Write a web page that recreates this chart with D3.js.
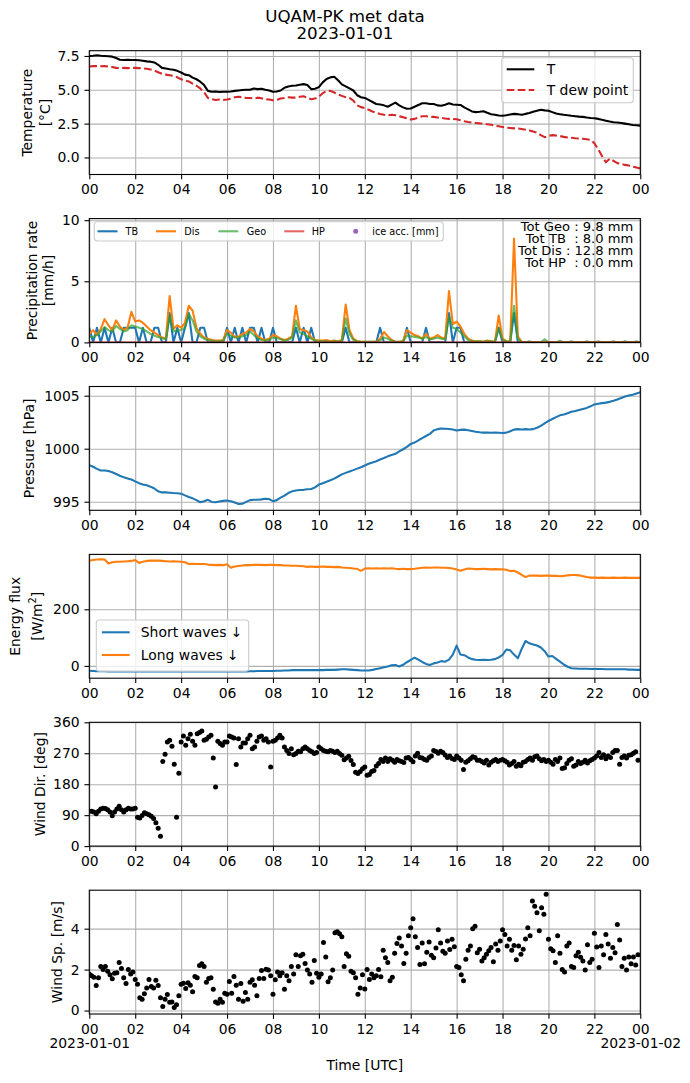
<!DOCTYPE html>
<html>
<head>
<meta charset="utf-8">
<script src="https://cdn.jsdelivr.net/npm/d3@7"></script>
<style>
	body { margin:0; background:#fff; }
	svg { display:block; }
</style>
</head>
<body>
<div id="chart"></div>
<script>
// ---- data : 10 min steps, 00:00 -> 24:00 (145 values) ----
var tempT = [
	7.50, 7.52, 7.55, 7.52, 7.50, 7.48,
	7.45, 7.35, 7.22, 7.20, 7.22, 7.20,
	7.20, 7.18, 7.15, 7.10, 7.08, 7.02,
	6.85, 6.62, 6.58, 6.52, 6.48, 6.40,
	6.28, 6.12, 6.08, 5.90, 5.78, 5.60,
	5.35, 4.92, 4.86, 4.88, 4.84, 4.86,
	4.86, 4.88, 4.92, 4.95, 4.98, 5.00,
	5.00, 5.10, 5.05, 5.08, 5.00, 4.95,
	4.85, 4.88, 4.95, 5.15, 5.25, 5.30,
	5.32, 5.38, 5.42, 5.35, 5.05, 5.08,
	5.20, 5.55, 5.80, 5.92, 5.96, 5.70,
	5.40, 5.25, 5.10, 4.95, 4.60, 4.45,
	4.40, 4.25, 4.10, 3.95, 3.92, 3.85,
	3.75, 3.90, 4.05, 3.85, 3.70, 3.60,
	3.62, 3.75, 3.88, 4.00, 4.00, 3.95,
	3.95, 3.85, 3.82, 3.90, 4.00, 3.92,
	3.90, 3.88, 3.70, 3.55, 3.40, 3.35,
	3.38, 3.42, 3.30, 3.20, 3.15, 3.10,
	3.08, 3.12, 3.18, 3.22, 3.20, 3.15,
	3.22, 3.28, 3.38, 3.45, 3.52, 3.48,
	3.45, 3.35, 3.25, 3.20, 3.15, 3.12,
	3.08, 3.05, 3.02, 3.00, 2.95, 2.92,
	2.90, 2.85, 2.78, 2.72, 2.65, 2.60,
	2.58, 2.55, 2.50, 2.45, 2.40, 2.38,
	2.35
];
var tempDew = [
	6.72, 6.75, 6.75, 6.74, 6.75, 6.72,
	6.68, 6.62, 6.60, 6.62, 6.60, 6.62,
	6.62, 6.60, 6.58, 6.55, 6.50, 6.42,
	6.30, 6.18, 6.12, 6.08, 6.02, 5.92,
	5.78, 5.70, 5.62, 5.45, 5.30, 5.10,
	4.82, 4.40, 4.30, 4.25, 4.28, 4.25,
	4.28, 4.35, 4.45, 4.48, 4.45, 4.40,
	4.40, 4.35, 4.42, 4.38, 4.30, 4.28,
	4.22, 4.25, 4.35, 4.40, 4.45, 4.42,
	4.42, 4.48, 4.52, 4.40, 4.30, 4.35,
	4.50, 4.75, 4.90, 4.92, 4.80, 4.65,
	4.55, 4.45, 4.40, 4.20, 3.85, 3.72,
	3.65, 3.52, 3.40, 3.30, 3.22, 3.15,
	3.12, 3.15, 3.12, 3.05, 2.98, 2.90,
	2.80, 2.85, 2.95, 3.05, 3.05, 3.00,
	3.00, 2.95, 2.92, 2.88, 2.85, 2.85,
	2.82, 2.75, 2.68, 2.62, 2.58, 2.55,
	2.52, 2.50, 2.45, 2.42, 2.35, 2.30,
	2.25, 2.20, 2.18, 2.15, 2.15, 2.10,
	2.05, 2.00, 1.92, 1.82, 1.65, 1.50,
	1.58, 1.65, 1.62, 1.58, 1.52, 1.48,
	1.45, 1.42, 1.40, 1.38, 1.35, 1.30,
	1.05, 0.60, 0.10, -0.35, -0.10, -0.25,
	-0.42, -0.48, -0.55, -0.60, -0.68, -0.75,
	-0.82
];
var precipTB = [
	1.2, 0, 1.2, 0, 1.2, 0,
	1.2, 0, 0, 1.2, 1.2, 1.2,
	1.2, 0, 1.2, 0, 0, 1.2,
	1.2, 0, 0, 2.4, 0, 1.2,
	0, 1.2, 2.4, 0, 0, 1.2,
	1.2, 0, 0, 0, 0, 0,
	1.2, 0, 1.2, 0, 1.2, 0,
	1.2, 1.2, 0, 1.2, 0, 0,
	1.2, 0, 0, 0, 0, 0,
	1.2, 0, 1.2, 0, 1.2, 0,
	0, 0, 0, 0, 0, 0,
	0, 1.2, 0, 0, 0, 0,
	0, 0, 0, 0, 1.2, 0,
	0, 0, 0, 0, 0, 1.2,
	0, 0, 0, 0, 1.2, 0,
	0, 0, 0, 0, 2.4, 0,
	1.2, 1.2, 0, 0, 0, 0,
	0, 0, 0, 0, 0, 1.2,
	0, 0, 0, 2.4, 0, 0,
	0, 0, 0, 0, 0, 0,
	0, 0, 0, 0, 0, 0,
	0, 0, 0, 0, 0, 0,
	0, 0, 0, 0, 0, 0,
	0, 0, 0, 0, 0, 0,
	0
];
var precipDis = [
	0.7, 1.0, 0.6, 1.1, 1.9, 1.4,
	1.0, 1.8, 1.3, 1.0, 1.2, 2.5,
	1.7, 1.8, 1.6, 1.3, 1.0, 0.8,
	0.6, 0.4, 0.3, 3.8, 1.1, 1.4,
	1.2, 1.6, 3.0, 2.6, 1.2, 0.7,
	0.4, 0.3, 0.2, 0.15, 0.15, 0.2,
	1.0, 0.8, 0.45, 0.45, 0.7, 0.8,
	1.1, 0.9, 0.5, 0.3, 0.2, 0.3,
	0.6, 0.5, 0.3, 0.2, 0.3, 0.5,
	3.0, 1.1, 1.0, 0.9, 0.4, 0.2,
	0.15, 0.15, 0.2, 0.1, 0.15, 0.1,
	0.2, 3.1, 1.0, 0.3, 0.1, 0.05,
	0.05, 0.05, 0.05, 0.05, 0.3, 0.85,
	0.5, 0.2, 0.05, 0.05, 0.1, 1.0,
	0.8, 0.6, 0.5, 0.3, 0.7, 0.3,
	0.4, 0.6, 0.4, 0.3, 4.2, 1.5,
	1.7, 1.3, 0.7, 0.3, 0.15, 0.1,
	0.1, 0.05, 0.15, 0.1, 0.05, 2.2,
	0.3, 0.1, 0.05, 8.5, 0.5, 0.05,
	0, 0, 0, 0, 0, 0,
	0, 0, 0, 0, 0, 0,
	0, 0, 0, 0, 0, 0,
	0, 0, 0, 0, 0, 0,
	0, 0, 0, 0, 0, 0,
	0
];
var precipGeo = [
	0.45, 0.45, 0.6, 0.9, 1.25, 1.0,
	0.9, 1.35, 1.1, 0.9, 1.0, 1.4,
	1.3, 1.2, 1.1, 0.9, 0.7, 0.55,
	0.45, 0.35, 0.25, 2.2, 0.9, 1.0,
	1.0, 1.2, 2.35, 1.8, 0.9, 0.5,
	0.3, 0.2, 0.15, 0.1, 0.1, 0.15,
	0.7, 0.55, 0.4, 0.4, 0.5, 0.6,
	0.9, 0.6, 0.35, 0.2, 0.15, 0.2,
	0.4, 0.35, 0.25, 0.15, 0.2, 0.4,
	1.8, 0.8, 0.7, 0.5, 0.3, 0.15,
	0.1, 0.1, 0.1, 0.05, 0.1, 0.05,
	0.15, 1.95, 0.7, 0.2, 0.1, 0.05,
	0.05, 0.05, 0.05, 0.05, 0.15, 0.4,
	0.3, 0.15, 0.05, 0.05, 0.1, 0.55,
	0.5, 0.45, 0.4, 0.3, 0.45, 0.25,
	0.3, 0.4, 0.3, 0.25, 2.1, 1.2,
	1.1, 0.8, 0.5, 0.2, 0.1, 0.1,
	0.1, 0.05, 0.1, 0.1, 0.05, 1.2,
	0.2, 0.1, 0.05, 3.0, 0.3, 0.05,
	0, 0.1, 0, 0, 0, 0.25,
	0, 0, 0, 0.15, 0, 0,
	0.1, 0, 0, 0, 0.1, 0,
	0, 0.1, 0, 0, 0, 0.1,
	0, 0, 0.1, 0, 0, 0.1,
	0
];
// hourly values
var precipHP = [0, 0, 0, 0, 0, 0, 0, 0, 0, 0, 0, 0, 0, 0, 0, 0, 0, 0, 0, 0, 0, 0, 0, 0, 0];
var pressure = [
	998.45, 998.30, 998.10, 997.95, 997.95, 997.90,
	997.78, 997.62, 997.45, 997.30, 997.20, 997.10,
	996.92, 996.75, 996.62, 996.55, 996.42, 996.25,
	995.98, 995.88, 995.88, 995.85, 995.82, 995.80,
	995.76, 995.60, 995.45, 995.32, 995.15, 994.95,
	995.05, 995.18, 994.98, 994.95, 995.02, 995.08,
	995.12, 995.05, 994.92, 994.78, 994.80, 994.98,
	995.15, 995.18, 995.18, 995.22, 995.28, 995.25,
	995.05, 995.15, 995.38, 995.58, 995.82, 995.98,
	996.05, 996.10, 996.12, 996.18, 996.20, 996.35,
	996.62, 996.75, 996.88, 997.02, 997.18, 997.38,
	997.58, 997.72, 997.85, 997.98, 998.12, 998.25,
	998.42, 998.58, 998.70, 998.82, 998.98, 999.12,
	999.28, 999.40, 999.52, 999.75, 999.95, 1000.18,
	1000.45, 1000.58, 1000.78, 1001.00, 1001.20, 1001.40,
	1001.72, 1001.85, 1001.90, 1001.88, 1001.86, 1001.82,
	1001.72, 1001.78, 1001.80, 1001.75, 1001.68, 1001.60,
	1001.55, 1001.52, 1001.52, 1001.50, 1001.52, 1001.50,
	1001.48, 1001.52, 1001.65, 1001.80, 1001.85, 1001.82,
	1001.85, 1001.82, 1001.85, 1001.98, 1002.15, 1002.40,
	1002.62, 1002.80, 1002.98, 1003.15, 1003.22, 1003.35,
	1003.48, 1003.55, 1003.65, 1003.75, 1003.85, 1004.00,
	1004.18, 1004.25, 1004.30, 1004.35, 1004.42, 1004.52,
	1004.65, 1004.78, 1004.92, 1005.02, 1005.10, 1005.22,
	1005.32
];
var swDown = [
	-17, -18, -19, -19, -19, -20,
	-20, -20, -20, -20, -20, -20,
	-20, -20, -20, -20, -20, -20,
	-20, -20, -20, -20, -20, -20,
	-20, -20, -20, -20, -20, -20,
	-20, -20, -20, -20, -20, -20,
	-20, -20, -20, -20, -20, -20,
	-19, -19, -18, -18, -18, -18,
	-18, -17, -17, -16, -16, -15,
	-15, -15, -15, -15, -15, -15,
	-15, -15, -14, -14, -14, -13,
	-12, -12, -13, -14, -15, -16,
	-16, -16, -14, -11, -8, -5,
	-2, 2, 3, -2, 4, 13,
	21, 29, 22, 14, 7, 3,
	9, 12, 17, 15, 22, 40,
	72, 40, 38, 30, 24, 22,
	21, 22, 21, 22, 24, 30,
	39, 58, 55, 40, 27, 60,
	88, 80, 76, 72, 65, 52,
	33, 35, 25, 15, 5, -3,
	-8, -9, -10, -10, -10, -11,
	-11, -11, -11, -12, -12, -12,
	-12, -12, -12, -13, -13, -14,
	-14
];
var lwDown = [
	372, 374, 376, 377, 376, 362,
	366, 368, 368, 369, 370, 371,
	374, 364, 368, 371, 372, 372,
	372, 371, 370, 369, 370, 369,
	368, 366, 360, 361, 360, 360,
	360, 358, 357, 356, 357, 356,
	359, 347, 351, 353, 355, 356,
	356, 357, 357, 357, 356, 357,
	357, 356, 356, 355, 355, 354,
	354, 353, 352, 350, 351, 350,
	350, 351, 350, 350, 349, 350,
	348, 347, 346, 344, 343, 336,
	344, 345, 344, 345, 344, 345,
	344, 345, 343, 342, 343, 342,
	342, 343, 345, 347, 348, 347,
	348, 348, 347, 347, 346, 344,
	341, 336, 341, 344, 343, 342,
	342, 343, 342, 341, 342, 341,
	341, 340, 335, 336, 330, 322,
	314, 319, 319, 319, 318, 319,
	319, 318, 318, 317, 318, 320,
	321, 321, 320, 317, 314, 312,
	312, 311, 312, 311, 311, 312,
	311, 311, 312, 311, 311, 311,
	311
];
// ---- data : 6 min steps, 00:00 -> 23:54 (240 values) ----
var windDir = [
	101, 101, 99, 94, 101, 108, 110, 109, 106, 99,
	88, 99, 108, 116, 106, 99, 106, 110, 108, 108,
	110, 84, 82, 89, 97, 94, 91, 87, 80, 68,
	52, 29, 246, 267, 303, 308, 290, 238, 84, 212,
	303, 320, 293, 312, 325, 305, 293, 327, 330, 335,
	308, 311, 317, 322, 256, 172, 305, 298, 293, 303,
	303, 320, 317, 314, 237, 312, 288, 300, 300, 312,
	322, 283, 288, 305, 317, 320, 308, 312, 303, 230,
	305, 308, 314, 322, 314, 288, 278, 269, 283, 266,
	269, 276, 274, 283, 288, 283, 278, 274, 269, 272,
	288, 283, 278, 276, 274, 278, 276, 272, 276, 269,
	264, 251, 256, 261, 249, 237, 215, 211, 217, 225,
	230, 206, 208, 217, 220, 233, 240, 252, 246, 256,
	246, 254, 250, 244, 252, 248, 246, 243, 256, 258,
	252, 245, 262, 270, 258, 256, 252, 250, 258, 262,
	278, 275, 270, 276, 272, 265, 258, 262, 255, 252,
	262, 256, 250, 223, 244, 248, 254, 260, 258, 250,
	250, 246, 242, 250, 236, 244, 248, 252, 246, 250,
	252, 248, 244, 236, 240, 246, 232, 238, 234, 244,
	246, 252, 256, 250, 260, 262, 254, 248, 252, 246,
	250, 244, 238, 252, 246, 256, 226, 228, 240, 250,
	254, 232, 236, 246, 240, 244, 250, 242, 248, 252,
	256, 262, 272, 258, 266, 254, 262, 258, 272, 278,
	278, 238, 258, 262, 256, 264, 266, 270, 274, 250
];
var windSpeed = [
	1.78, 1.70, 1.62, 1.22, 1.60, 2.15, 2.00, 2.15, 1.92, 1.75,
	1.55, 1.82, 1.85, 2.35, 2.05, 1.60, 1.32, 2.00, 1.78, 1.88,
	1.52, 1.28, 0.62, 0.55, 0.82, 1.10, 1.52, 1.18, 1.10, 1.48,
	1.22, 0.62, 0.20, 0.55, 0.78, 0.40, 0.42, 0.15, 0.28, 0.72,
	1.28, 1.33, 1.08, 1.36, 1.24, 0.92, 1.66, 1.60, 2.20, 2.28,
	2.15, 1.38, 1.56, 1.60, 1.04, 0.42, 0.36, 0.55, 0.40, 0.85,
	0.80, 1.42, 0.85, 1.66, 1.24, 0.55, 1.32, 0.45, 0.88, 0.55,
	1.38, 1.50, 1.24, 0.72, 1.56, 1.95, 1.56, 2.02, 1.98, 1.70,
	0.80, 1.50, 1.88, 1.70, 1.85, 1.04, 1.70, 1.45, 2.15, 1.78,
	2.72, 2.15, 2.68, 2.75, 2.30, 1.98, 1.78, 1.38, 2.45, 1.82,
	1.62, 1.78, 3.32, 2.62, 1.40, 1.60, 1.98, 3.80, 3.85, 3.75,
	3.60, 2.15, 2.78, 2.65, 1.92, 1.85, 1.60, 0.80, 1.10, 1.75,
	1.05, 2.00, 1.52, 1.78, 1.60, 1.70, 2.00, 1.65, 2.95, 2.58,
	2.35, 1.45, 1.62, 2.80, 3.28, 3.55, 3.15, 2.30, 2.80, 3.65,
	4.05, 4.48, 3.60, 3.08, 2.25, 3.30, 2.28, 2.85, 3.35, 2.70,
	2.58, 3.05, 3.95, 3.30, 2.90, 2.80, 3.40, 2.98, 3.48, 3.12,
	2.15, 2.10, 1.75, 1.45, 2.50, 2.95, 3.15, 4.00, 4.12, 2.82,
	3.00, 2.42, 2.58, 2.75, 2.92, 3.08, 2.38, 3.25, 2.95, 3.40,
	3.95, 3.72, 3.15, 3.48, 2.95, 3.18, 2.48, 3.15, 2.75, 3.00,
	3.50, 4.05, 3.65, 5.35, 5.10, 4.78, 3.90, 5.02, 4.70, 5.68,
	3.48, 3.02, 2.92, 2.35, 3.65, 2.80, 2.00, 1.88, 3.15, 3.30,
	2.15, 2.10, 2.68, 2.85, 2.60, 2.42, 1.98, 3.22, 2.35, 2.50,
	3.78, 3.10, 2.10, 3.15, 2.72, 3.72, 3.25, 2.55, 3.08, 2.82,
	4.20, 3.45, 2.15, 2.55, 1.98, 2.62, 2.28, 2.62, 2.22, 2.72
];
// ---- texts / ticks ----
var precipTotals = ['Tot Geo : 9.8 mm', 'Tot TB  : 8.0 mm', 'Tot Dis : 12.8 mm', 'Tot HP  : 0.0 mm'];
var tempTicks = [0, 2.5, 5, 7.5];
var precipTicks = [0, 5, 10];
var pressTicks = [995, 1000, 1005];
var fluxTicks = [0, 200];
var dirTicks = [0, 90, 180, 270, 360];
var speedTicks = [0, 2, 4];
var dayLabels = ['2023-01-01', '2023-01-02'];

// ---- layout ----
var W = 690, H = 1083;
var FONT = '"DejaVu Sans", "Liberation Sans", sans-serif';
var plotL = 89.3, plotR = 640.3, plotH = 123.8;
var panelTop = [50.7, 218.6, 386.5, 554.4, 722.3, 890.2];
var tick = 4.86, fs = 13.9;

var t0 = new Date(Date.UTC(2023, 0, 1)), t1 = new Date(Date.UTC(2023, 0, 2));
var x = d3.scaleUtc().domain([t0, t1]).range([plotL, plotR]);
function at(i, stepMin){ return new Date(t0.getTime() + i * stepMin * 60000); }

var svg = d3.select('#chart').append('svg')
	.attr('width', W).attr('height', H)
	.attr('font-family', FONT);
svg.append('rect').attr('width', W).attr('height', H).attr('fill', '#fff');
var defs = svg.append('defs');

function makePanel(k, yDomain, yTicks, yFmt){
	var top = panelTop[k], bottom = top + plotH;
	var y = d3.scaleLinear().domain(yDomain).range([bottom, top]);
	var g = svg.append('g');
	defs.append('clipPath').attr('id', 'clip' + k)
		.append('rect').attr('x', plotL).attr('y', top).attr('width', plotR - plotL).attr('height', plotH);
	//grid
	var grid = g.append('g');
	grid.append('g').attr('transform', 'translate(0,' + bottom + ')')
		.call(d3.axisBottom(x).ticks(d3.utcHour.every(2)).tickSize(-plotH).tickFormat(''));
	grid.append('g').attr('transform', 'translate(' + plotL + ',0)')
		.call(d3.axisLeft(y).tickValues(yTicks).tickSize(-(plotR - plotL)).tickFormat(''));
	grid.selectAll('.domain').remove();
	grid.selectAll('line').attr('stroke', '#b0b0b0').attr('stroke-width', 1.1);
	//marks
	var marks = g.append('g').attr('clip-path', 'url(#clip' + k + ')');
	//axes
	var ax = g.append('g');
	var xa = ax.append('g').attr('transform', 'translate(0,' + bottom + ')')
		.call(d3.axisBottom(x).ticks(d3.utcHour.every(2)).tickFormat(d3.utcFormat('%H'))
			.tickSize(tick).tickPadding(tick));
	ax.append('g').attr('transform', 'translate(' + plotL + ',0)')
		.call(d3.axisLeft(y).tickValues(yTicks).tickFormat(d3.format(yFmt))
			.tickSize(tick).tickPadding(tick));
	ax.selectAll('.domain').remove();
	ax.selectAll('.tick line').attr('stroke', '#000').attr('stroke-width', 1.1);
	ax.selectAll('.tick text').attr('font-family', FONT).attr('font-size', fs).attr('fill', '#000');
	ax.append('rect')
		.attr('x', plotL).attr('y', top)
		.attr('width', plotR - plotL).attr('height', plotH)
		.attr('fill', 'none').attr('stroke', '#000').attr('stroke-width', 1.1);
	return { g: g, marks: marks, y: y, top: top, bottom: bottom, xAxis: xa };
}

function yLabel(p, xs, lines){
	var cy = (p.top + p.bottom) / 2;
	var out = [];
	lines.forEach(function(s, i){
		out.push(p.g.append('text')
			.attr('transform', 'translate(' + xs[i] + ',' + cy + ') rotate(-90)')
			.attr('text-anchor', 'middle')
			.attr('dominant-baseline', 'central')
			.attr('font-size', fs)
			.text(s));
	});
	return out;
}

function drawLine(p, values, stepMin, color, width, extra){
	var line = d3.line()
		.x(function(d, i){ return x(at(i, stepMin)); })
		.y(function(d){ return p.y(d); });
	var path = p.marks.append('path')
		.datum(values)
		.attr('d', line)
		.attr('fill', 'none')
		.attr('stroke', color)
		.attr('stroke-width', width)
		.attr('stroke-linejoin', 'round');
	if(extra){
		for(var a in extra){ path.attr(a, extra[a]); }
	}
	return path;
}

function drawDots(p, values, stepMin){
	p.marks.selectAll('circle.pt')
		.data(values).enter()
		.append('circle')
		.attr('class', 'pt')
		.attr('cx', function(d, i){ return x(at(i, stepMin)); })
		.attr('cy', function(d){ return p.y(d); })
		.attr('r', 2.5)
		.attr('fill', '#000');
}

function legendBox(g, bx, by, bw, bh){
	g.append('rect')
		.attr('x', bx).attr('y', by).attr('width', bw).attr('height', bh)
		.attr('rx', 3).attr('ry', 3)
		.attr('fill', '#fff').attr('fill-opacity', 0.8)
		.attr('stroke', '#cccccc').attr('stroke-width', 1.1);
}
function legendLine(g, x1, x2, yy, color, dash, opacity){
	var l = g.append('line')
		.attr('x1', x1).attr('x2', x2).attr('y1', yy).attr('y2', yy)
		.attr('stroke', color).attr('stroke-width', 2.08)
		.attr('stroke-opacity', opacity == null ? 1 : opacity);
	if(dash){ l.attr('stroke-dasharray', dash); }
}
function legendText(g, tx, ty, s, size){
	g.append('text')
		.attr('x', tx).attr('y', ty)
		.attr('dominant-baseline', 'central')
		.attr('font-size', size)
		.text(s);
}

// ---- title ----
svg.append('text').attr('x', 345).attr('y', 22).attr('text-anchor', 'middle')
	.attr('font-size', 16.7).text('UQAM-PK met data');
svg.append('text').attr('x', 345).attr('y', 39.3).attr('text-anchor', 'middle')
	.attr('font-size', 16.7).text('2023-01-01');

// ---- 1 temperature ----
var p1 = makePanel(0, [-1.26, 7.89], tempTicks, '.1f');
drawLine(p1, tempT, 10, '#000', 2.08);
drawLine(p1, tempDew, 10, '#d62728', 2.08, { 'stroke-dasharray': '7.7,3.3' });
yLabel(p1, [27, 44.5], ['Temperature', '[°C]']);
var lg1 = p1.g.append('g');
legendBox(lg1, 501.7, 57.7, 131.6, 45);
legendLine(lg1, 506.7, 534.3, 69.3, '#000');
legendText(lg1, 546.7, 69.3, 'T', fs);
legendLine(lg1, 506.7, 534.3, 90, '#d62728', '7.7,3.3');
legendText(lg1, 546.7, 90, 'T dew point', fs);

// ---- 2 precipitation ----
var p2 = makePanel(1, [0, 10.13], precipTicks, 'd');
drawLine(p2, precipTB, 10, '#1f77b4', 2.08);
drawLine(p2, precipDis, 10, '#ff7f0e', 2.08);
drawLine(p2, precipGeo, 10, '#2ca02c', 2.08, { 'stroke-opacity': 0.7 });
drawLine(p2, precipHP, 60, '#d62728', 2.08, { 'stroke-opacity': 0.7 });
yLabel(p2, [31.5, 48.3], ['Precipitation rate', '[mm/h]']);
var lg2 = p2.g.append('g');
legendBox(lg2, 94.3, 221.7, 349, 19.3);
var lg2Items = [
	{ name: 'TB', color: '#1f77b4', x1: 97.5, tx: 125.5, op: 1 },
	{ name: 'Dis', color: '#ff7f0e', x1: 156, tx: 184.3, op: 1 },
	{ name: 'Geo', color: '#2ca02c', x1: 218.3, tx: 246.7, op: 0.7 },
	{ name: 'HP', color: '#d62728', x1: 284.3, tx: 311.7, op: 0.7 }
];
lg2Items.forEach(function(it){
	legendLine(lg2, it.x1, it.x1 + 20, 231.3, it.color, null, it.op);
	legendText(lg2, it.tx, 231.3, it.name, 9.7);
});
lg2.append('circle').attr('cx', 355.7).attr('cy', 231.3).attr('r', 2.5).attr('fill', '#9467bd');
legendText(lg2, 372.3, 231.3, 'ice acc. [mm]', 9.7);
// totals, stacked as in the source (lines touch)
precipTotals.forEach(function(s, i){
	p2.g.append('text')
		.attr('x', 633.3).attr('y', 230.7 + i * 12.2)
		.attr('text-anchor', 'end')
		.attr('font-size', 13.1)
		.attr('xml:space', 'preserve')
		.style('white-space', 'pre')
		.text(s);
});

// ---- 3 pressure ----
var p3 = makePanel(2, [994.19, 1005.87], pressTicks, 'd');
drawLine(p3, pressure, 10, '#1f77b4', 2.08);
yLabel(p3, [29], ['Pressure [hPa]']);

// ---- 4 energy flux ----
var p4 = makePanel(3, [-43.4, 394], fluxTicks, 'd');
drawLine(p4, swDown, 10, '#1f77b4', 2.08);
drawLine(p4, lwDown, 10, '#ff7f0e', 2.08);
var fl = yLabel(p4, [15, 36.5], ['Energy flux', '[W/m']);
fl[1].append('tspan').attr('font-size', 9.7).attr('dy', -5).text('2');
fl[1].append('tspan').attr('dy', 5).text(']');
var lg4 = p4.g.append('g');
legendBox(lg4, 96.3, 620, 152.4, 51.3);
legendLine(lg4, 101.9, 129.7, 632.3, '#1f77b4');
legendText(lg4, 140.8, 632.3, 'Short waves \u2193', fs);
legendLine(lg4, 101.9, 129.7, 655, '#ff7f0e');
legendText(lg4, 140.8, 655, 'Long waves \u2193', fs);

// ---- 5 wind direction ----
var p5 = makePanel(4, [0, 360], dirTicks, 'd');
drawDots(p5, windDir, 6);
yLabel(p5, [40], ['Wind Dir. [deg]']);

// ---- 6 wind speed ----
var p6 = makePanel(5, [-0.17, 5.88], speedTicks, 'd');
drawDots(p6, windSpeed, 6);
yLabel(p6, [57], ['Wind Sp. [m/s]']);
p6.xAxis.selectAll('.tick')
	.filter(function(d){ return d.getUTCHours() === 0; })
	.append('text')
	.attr('y', 34).attr('fill', '#000')
	.attr('text-anchor', 'middle')
	.attr('font-family', FONT).attr('font-size', fs)
	.text(function(d){ return dayLabels[d.getTime() === t0.getTime() ? 0 : 1]; });
svg.append('text').attr('x', (plotL + plotR) / 2).attr('y', 1069.5)
	.attr('text-anchor', 'middle').attr('font-size', fs).text('Time [UTC]');
</script>
</body>
</html>
